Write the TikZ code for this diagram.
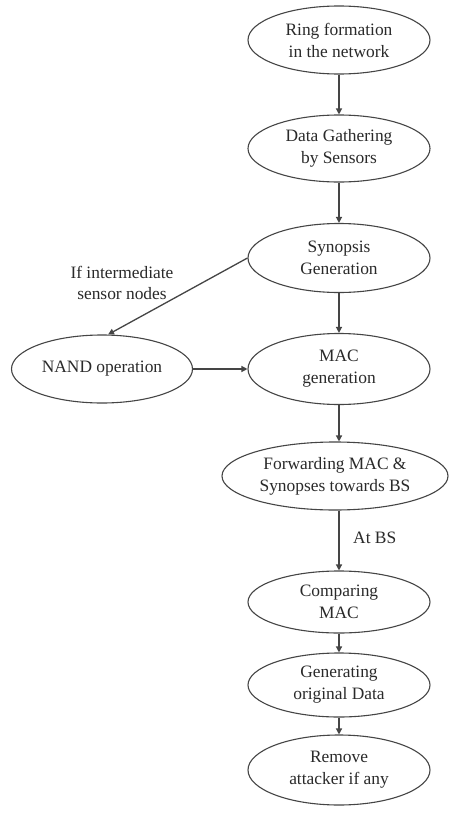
\documentclass[tikz,border=0pt]{standalone}
\usepackage{fontspec}
\setmainfont{Liberation Serif}
\newfontfamily\diagfont{Liberation Serif}
\usetikzlibrary{shapes.geometric,arrows.meta}
\definecolor{linec}{HTML}{454545}
\definecolor{textc}{HTML}{2A2A2A}
\begin{document}
\begin{tikzpicture}[x=1pt,y=-1pt,
  stage/.style={ellipse,draw=linec,line width=1.1pt,inner sep=0pt,align=center,text=textc,
    font=\diagfont\fontsize{17.4}{22}\selectfont,minimum width=182pt,minimum height=68pt},
  flow/.style={draw=linec,line width=1.3pt,-{Triangle[length=6pt,width=6pt]}},
  lbl/.style={text=textc,align=center,font=\diagfont\fontsize{17.4}{21}\selectfont,inner sep=0pt}]
\useasboundingbox[fill=white] (0,0) rectangle (457,830);
\node[stage] (ring) at (339,40) {Ring formation\\in the network};
\node[stage,minimum height=67pt] (dg) at (339,148.5) {Data Gathering\\by Sensors};
\node[stage,minimum height=69pt] (syn) at (339,258) {Synopsis\\Generation};
\node[stage,minimum height=71pt] (mac) at (339,369) {MAC\\generation};
\node[stage,minimum width=181pt] (nand) at (102,369) {NAND operation};
\node[stage,minimum width=226pt] (fwd) at (335,476) {Forwarding MAC \&\\Synopses towards BS};
\node[stage,minimum height=62pt] (cmp) at (339,602) {Comparing\\MAC};
\node[stage,minimum height=64pt] (gen) at (339,685) {Generating\\original Data};
\node[stage,minimum height=70pt] (rem) at (339,770) {Remove\\attacker if any};
\node[lbl] (lif) at (122,283) {If intermediate\\sensor nodes};
\node[lbl,anchor=west] (lbs) at (353,538) {At BS};
\draw[flow] (ring) -- (dg);
\draw[flow] (dg) -- (syn);
\draw[flow] (syn) -- (mac);
\draw[flow] (syn.180) -- (nand.80);
\draw[flow] (nand) -- (mac);
\draw[flow] (mac) -- (mac.south |- fwd.north);
\draw[flow] (fwd.south -| cmp.north) -- (cmp);
\draw[flow] (cmp) -- (gen);
\draw[flow] (gen) -- (rem);
\end{tikzpicture}
\end{document}
